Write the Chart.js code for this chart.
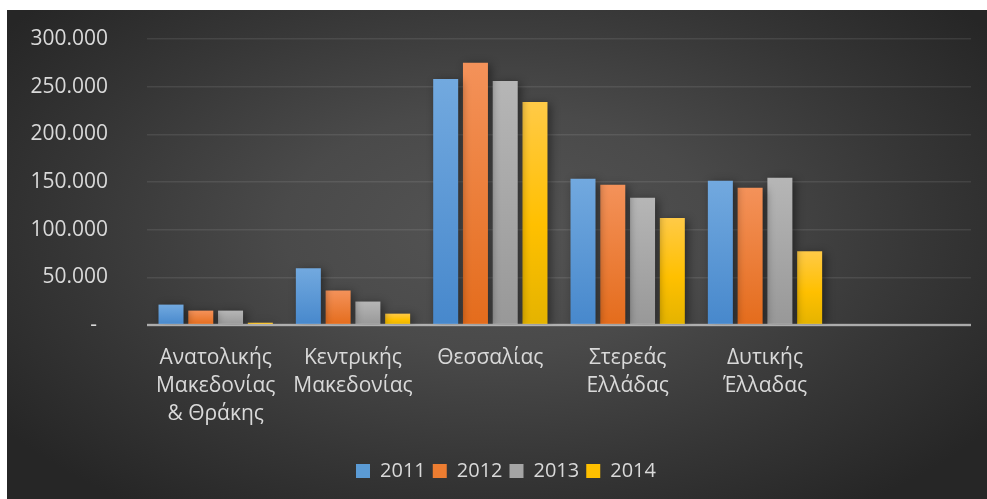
<!DOCTYPE html>
<html>
<head>
<meta charset="utf-8">
<script src="https://cdn.jsdelivr.net/npm/chart.js@4.4.1/dist/chart.umd.min.js"></script>
<style>
  html, body { margin:0; padding:0; background:#ffffff; }
  #wrap { position:absolute; left:7px; top:10px; width:980px; height:489px;
    background: radial-gradient(ellipse 62% 70% at 50% 45%, #545454 0%, #4a4a4a 35%, #363636 70%, #262626 100%); }
  canvas { display:block; }
</style>
</head>
<body>
<div id="wrap"><canvas id="c" width="980" height="489"></canvas></div>
<script>
const categories = [
  ['Ανατολικής','Μακεδονίας','& Θράκης'],
  ['Κεντρικής','Μακεδονίας'],
  ['Θεσσαλίας'],
  ['Στερεάς','Ελλάδας'],
  ['Δυτικής','Έλλαδας'],
  ''
];
const years = ['2011','2012','2013','2014'];
const values2011 = [21400, 59500, 258000, 153500, 151400, null];
const values2012 = [15100, 36200, 275000, 147200, 144000, null];
const values2013 = [15100, 24600, 256000, 133400, 154500, null];
const values2014 = [2400, 11900, 234000, 112300, 77400, null];
const yTicks = [0, 50000, 100000, 150000, 200000, 250000, 300000];

const palette = [
  {top:'#72a9df', bottom:'#4788cc', solid:'#5b9bd5'},
  {top:'#f4925a', bottom:'#e46c1c', solid:'#ed7d31'},
  {top:'#b6b6b6', bottom:'#989898', solid:'#a5a5a5'},
  {top:'#ffca47', mid:'#ffc000', bottom:'#e4b300', solid:'#ffc000'}
];

function barGrad(p) {
  return function(ctx) {
    const ch = ctx.chart;
    if (!ch.chartArea || ctx.type !== 'data') return p.solid;
    const yb = ch.scales.y.getPixelForValue(0);
    const yt = ch.scales.y.getPixelForValue(ctx.raw || 0);
    if (!isFinite(yt) || yb - yt < 1) return p.solid;
    const g = ch.ctx.createLinearGradient(0, yt, 0, yb);
    g.addColorStop(0, p.top);
    if (p.mid) g.addColorStop(0.55, p.mid);
    g.addColorStop(1, p.bottom);
    return g;
  };
}

const seriesValues = [values2011, values2012, values2013, values2014];
const datasets = years.map((y, i) => ({
  label: y,
  data: seriesValues[i],
  backgroundColor: barGrad(palette[i]),
  borderWidth: 0,
  categoryPercentage: 0.867,
  barPercentage: 0.84
}));

function fmt(v) {
  if (v === 0) return '-  ';
  return String(v).replace(/\B(?=(\d{3})+(?!\d))/g, '.');
}

const shadowPlugin = {
  id: 'shadow',
  beforeDatasetDraw(chart) {
    const c = chart.ctx; c.save();
    c.shadowColor = 'rgba(0,0,0,0.45)';
    c.shadowBlur = 10; c.shadowOffsetX = 3; c.shadowOffsetY = 2;
  },
  afterDatasetDraw(chart) { chart.ctx.restore(); }
};
const axisLinePlugin = {
  id: 'axisLine',
  afterDatasetsDraw(chart) {
    const c = chart.ctx, ca = chart.chartArea;
    const y = chart.scales.y.getPixelForValue(0);
    c.save();
    c.strokeStyle = 'rgba(210,210,210,0.55)';
    c.lineWidth = 2.5;
    c.beginPath(); c.moveTo(ca.left, y); c.lineTo(ca.right, y); c.stroke();
    c.restore();
  }
};
const legendShift = {
  id: 'legendShift',
  beforeDraw(chart) { if (chart.legend) chart.legend.left = 34; }
};

const FONT = "'Open Sans', 'Noto Sans', sans-serif";
new Chart(document.getElementById('c'), {
  type: 'bar',
  data: { labels: categories, datasets },
  plugins: [shadowPlugin, axisLinePlugin, legendShift],
  options: {
    responsive: false,
    animation: false,
    devicePixelRatio: 1,
    layout: { autoPadding: false, padding: { top: 29, right: 16, bottom: 8, left: 0 } },
    plugins: {
      tooltip: { enabled: false },
      legend: {
        position: 'bottom',
        labels: {
          color: '#d9d9d9',
          font: { family: FONT, size: 20 },
          boxWidth: 14, boxHeight: 14, padding: 7,
          generateLabels(chart) {
            return chart.data.datasets.map((d, i) => ({
              text: d.label, fillStyle: palette[i].solid, strokeStyle: palette[i].solid,
              lineWidth: 0, hidden: false, datasetIndex: i, fontColor: '#d9d9d9'
            }));
          }
        }
      }
    },
    scales: {
      x: {
        grid: { display: false, drawTicks: false },
        border: { display: false },
        ticks: {
          color: '#d9d9d9',
          font: { family: FONT, size: 21, lineHeight: 1.33 },
          padding: 19,
          maxRotation: 0, autoSkip: false
        },
        afterFit(s) { s.height = 129; }
      },
      y: {
        min: 0, max: 300000,
        afterBuildTicks(s) { s.ticks = yTicks.map(v => ({ value: v })); },
        grid: {
          color: ctx => ctx.tick && ctx.tick.value === 0 ? 'rgba(200,200,200,0.5)' : 'rgba(255,255,255,0.09)',
          lineWidth: ctx => ctx.tick && ctx.tick.value === 0 ? 2 : 1.5,
          drawTicks: true,
          tickLength: 37,
          tickColor: 'rgba(0,0,0,0)'
        },
        border: { display: false },
        ticks: {
          color: '#d9d9d9',
          font: { family: FONT, size: 21 },
          padding: 2,
          callback: v => fmt(v)
        },
        afterFit(s) { s.width = 140; }
      }
    }
  }
});
</script>
</body>
</html>
